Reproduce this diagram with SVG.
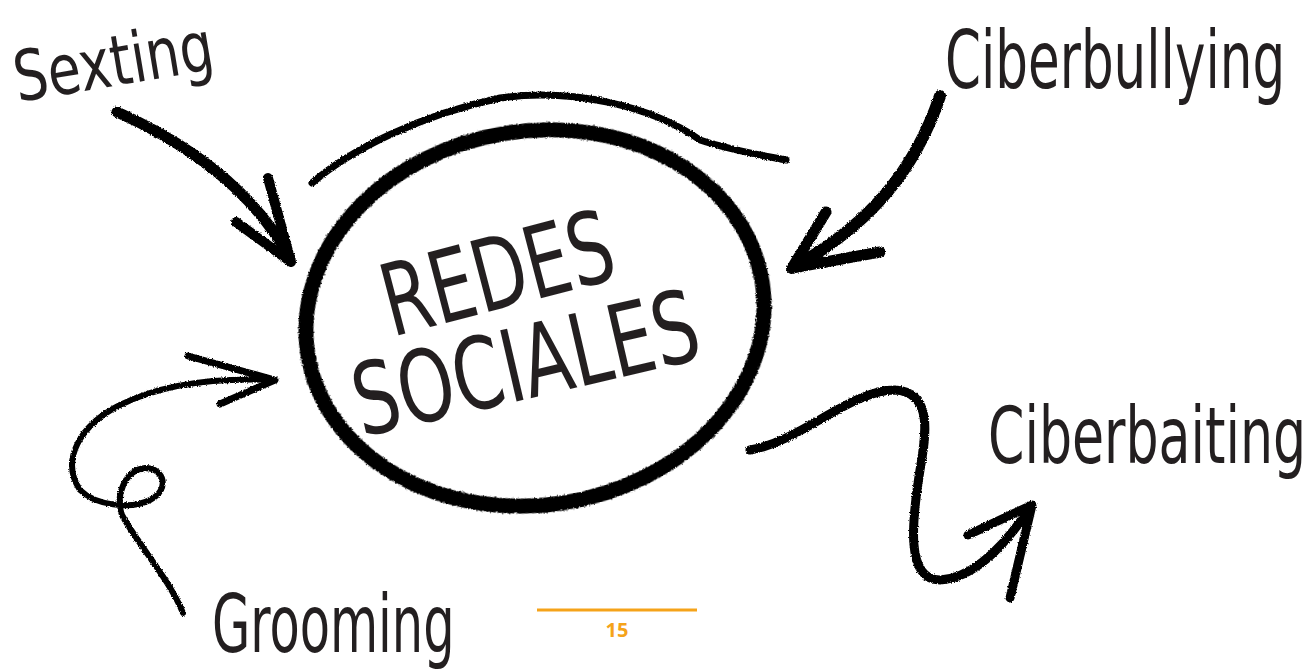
<svg xmlns="http://www.w3.org/2000/svg" width="1314" height="670" viewBox="0 0 1314 670">
<style>
.hand{font-family:"DejaVu Sans Condensed","Liberation Sans Narrow","Liberation Sans",sans-serif;fill:#231f20;}
.brush{fill:none;stroke:#000;stroke-linecap:round;stroke-linejoin:round;}
.pg{font-family:"Open Sans","Liberation Sans",sans-serif;font-weight:bold;fill:#f5a31a;}
</style>
<defs>
<filter id="rough" x="-10%" y="-10%" width="120%" height="120%">
<feTurbulence type="fractalNoise" baseFrequency="0.8" numOctaves="2" seed="3" result="n"/>
<feDisplacementMap in="SourceGraphic" in2="n" scale="3" xChannelSelector="R" yChannelSelector="G"/>
</filter>
</defs>
<rect width="1314" height="670" fill="#fff"/>

<g id="node-redes-sociales">
<ellipse cx="535" cy="318" rx="230" ry="187" transform="rotate(-9 535 318)" class="brush" stroke-width="15" filter="url(#rough)"/>
<path d="M312,183 C350,150 420,115 500,98 C570,88 650,105 700,140 C730,150 760,155 786,160" class="brush" stroke-width="7" filter="url(#rough)"/>
<text class="hand" x="0" y="0" font-size="100" transform="translate(392 337) rotate(-14.6) scale(0.78 1)">REDES</text>
<text class="hand" x="0" y="0" font-size="100" transform="translate(362 437) rotate(-13) scale(0.795 1)">SOCIALES</text>
</g>

<g id="node-sexting">
<text class="hand" x="0" y="0" font-size="70" transform="translate(18 102) rotate(-9.5) scale(0.85 1)">Sexting</text>
</g>

<g id="node-ciberbullying">
<text class="hand" x="0" y="0" font-size="80" transform="translate(945 88) scale(0.716 1)">Ciberbullying</text>
</g>

<g id="node-ciberbaiting">
<text class="hand" x="0" y="0" font-size="78" transform="translate(988 463) scale(0.743 1)">Ciberbaiting</text>
</g>

<g id="node-grooming">
<text class="hand" x="0" y="0" font-size="80" transform="translate(212 652) scale(0.687 1)">Grooming</text>
</g>

<g id="connectors" filter="url(#rough)">
<path d="M117,112 C180,140 250,185 290,258" class="brush" stroke-width="11"/>
<path d="M236,222 L291,262 L268,178" class="brush" stroke-width="10"/>
<path d="M940,96 C915,170 870,225 792,268" class="brush" stroke-width="12"/>
<path d="M826,212 L792,268 L880,252" class="brush" stroke-width="11"/>
<path d="M183,613 C170,580 135,540 122,515 C115,495 125,470 145,468 C165,468 170,490 150,500 C130,510 95,505 80,490 C60,460 80,425 120,405 C170,380 230,378 275,380" class="brush" stroke-width="6"/>
<path d="M188,356 L275,380 L220,404" class="brush" stroke-width="7"/>
<path d="M750,450 C800,442 850,390 895,390 C935,392 925,440 920,470 C912,520 905,580 940,580 C975,578 1005,545 1030,508" class="brush" stroke-width="9"/>
<path d="M968,535 L1032,505 L1010,598" class="brush" stroke-width="9"/>
</g>

<g id="page-number">
<line x1="537" y1="610" x2="697" y2="610" stroke="#f5a31a" stroke-width="3"/>
<text class="pg" x="617" y="637" font-size="20" text-anchor="middle">15</text>
</g>
</svg>
